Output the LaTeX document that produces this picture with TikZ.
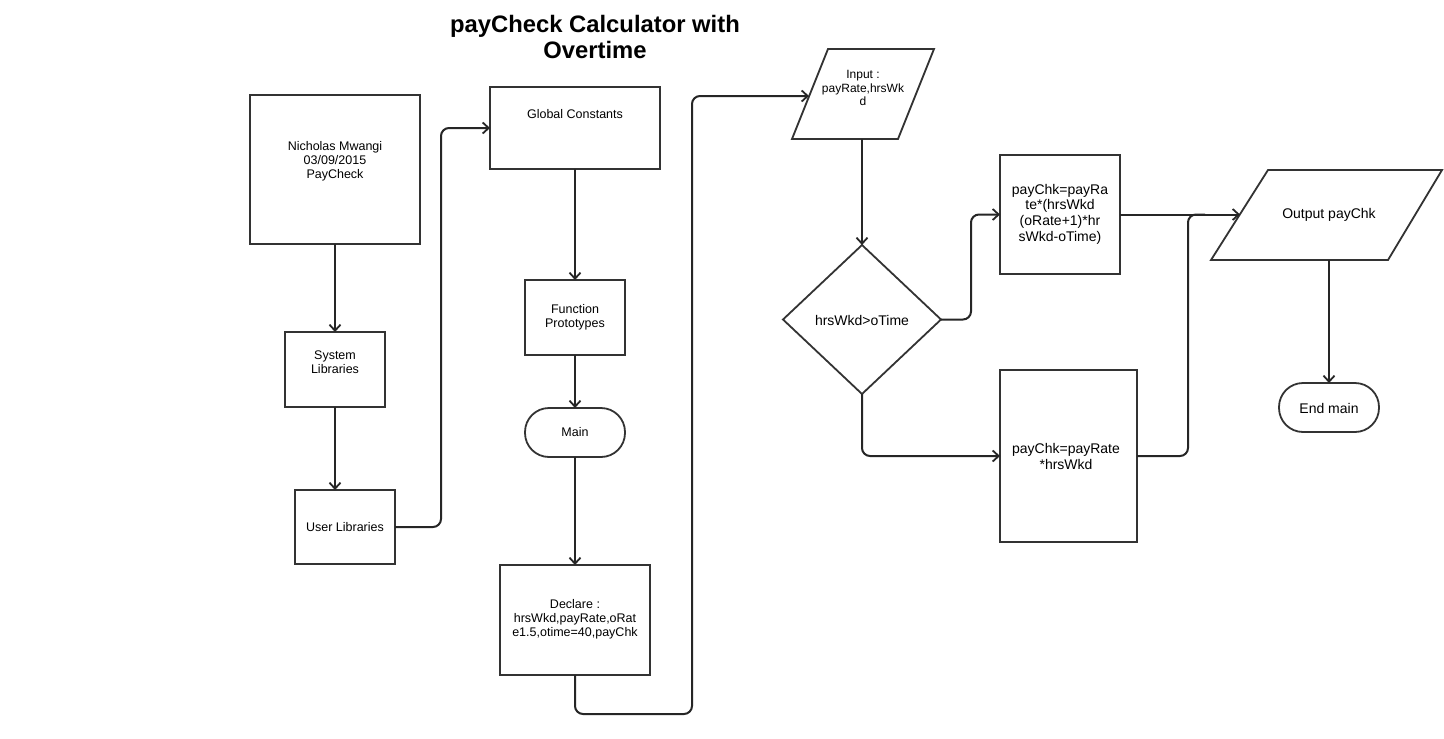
\documentclass[tikz,border=0pt]{standalone}
\usepackage{fontspec}
\setmainfont{Liberation Sans}
\usetikzlibrary{arrows.meta,shapes.geometric,shapes.misc}
\begin{document}
\begin{tikzpicture}[x=1pt,y=-1pt,
  box/.style={draw=black!80,line width=1.8pt,inner sep=0pt,outer sep=0pt,fill=white},
  shp/.style={draw=black!80,line width=1.8pt,fill=white,line join=miter},
  term/.style={box,rounded corners=24pt},
  txt/.style={font=\fontsize{12.5}{14}\selectfont,align=center,text=black},
  big/.style={font=\fontsize{14}{16}\selectfont,align=center,text=black},
  conn/.style={draw=black!85,line width=2pt,rounded corners=8pt},
  arr/.style={conn,-{Straight Barb[length=6pt,width=11pt,line width=1.8pt]}}]
\useasboundingbox[fill=white] (0,0) rectangle (1444,739);

\node[font=\bfseries\fontsize{23.8}{26}\selectfont,align=center] (title) at (595,37) {payCheck Calculator with\\Overtime};

\node[box,minimum width=170,minimum height=149] (nm) at (335,169.5) {};
\node[txt] (nmt) at (335,161) {Nicholas Mwangi\\03/09/2015\\PayCheck};
\node[box,minimum width=100,minimum height=75] (sys) at (335,369.5) {};
\node[txt] (syst) at (335,362) {System\\Libraries};
\node[box,minimum width=100,minimum height=74] (usr) at (345,527) {};
\node[txt] (usrt) at (345,527) {User Libraries};

\node[box,minimum width=170,minimum height=82] (glob) at (575,128) {};
\node[txt] (globt) at (575,114) {Global Constants};
\node[box,minimum width=100,minimum height=75] (fun) at (575,317.5) {};
\node[txt] (funt) at (575,317) {Function\\Prototypes};
\node[term,minimum width=100,minimum height=49] (main) at (575,432.5) {};
\node[txt] (maint) at (575,432) {Main};
\node[box,minimum width=150,minimum height=110] (dec) at (575,620) {};
\node[txt] (dect) at (575,619) {Declare :\\hrsWkd,payRate,oRat\\e1.5,otime=40,payChk};

% input parallelogram
\draw[shp] (828,49) -- (934,49) -- (898,139) -- (792,139) -- cycle;
\coordinate (inW) at (809,96);
\coordinate (inS) at (862,139);
\node[txt,font=\fontsize{12}{13.5}\selectfont] (int) at (863,88) {Input :\\payRate,hrsWk\\d};

\node[box,diamond,minimum width=158,minimum height=149] (dia) at (862,319.5) {};
\node[big] (diat) at (862,320) {hrsWkd>oTime};

\node[box,minimum width=120,minimum height=119] (p1) at (1060,214.5) {};
\node[big,font=\fontsize{14}{15.7}\selectfont] (p1t) at (1060,214) {payChk=payRa\\te*(hrsWkd\\(oRate+1)*hr\\sWkd-oTime)};
\node[box,minimum width=137,minimum height=172] (p2) at (1068.5,456) {};
\node[big] (p2t) at (1066,456) {payChk=payRate\\*hrsWkd};

% output parallelogram
\draw[shp] (1268,170) -- (1442,170) -- (1388,260) -- (1211,260) -- cycle;
\coordinate (outW) at (1240,214.5);
\coordinate (outS) at (1329,260);
\node[big] (outt) at (1329,215) {Output payChk};
\node[term,minimum width=100,minimum height=49] (end) at (1329,407.5) {};
\node[big] (endt) at (1329,408) {End main};

\coordinate (j) at (1205,214.5);

\draw[arr] (nm.south) -- (sys.north);
\draw[arr] (sys.south) -- (usr.north -| sys.south);
\draw[arr] (usr.east) -- ++(46,0) |- (glob.west);
\draw[arr] (glob.south) -- (fun.north);
\draw[arr] (fun.south) -- (main.north);
\draw[arr] (main.south) -- (dec.north);
\draw[arr] (dec.south) -- ++(0,39) -- ++(117,0) |- (inW);
\draw[arr] (inS) -- (dia.north);
\draw[arr] (dia.east) -- ++(30,0) |- (p1.west);
\draw[arr] (dia.south) |- (p2.west);
\draw[conn] (p2.east) -- ++(51,0) |- (j);
\draw[arr] (p1.east) -- (outW);
\draw[arr] (outS) -- (end.north);
\end{tikzpicture}
\end{document}
